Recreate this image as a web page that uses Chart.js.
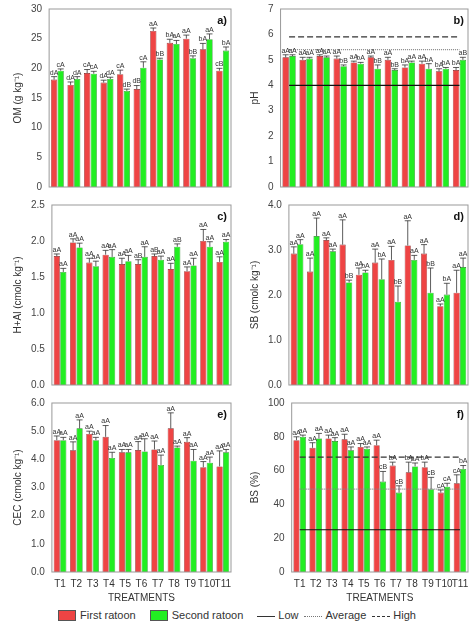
<!DOCTYPE html>
<html>
<head>
<meta charset="utf-8">
<script src="https://cdn.jsdelivr.net/npm/chart.js@4.4.1/dist/chart.umd.min.js"></script>
<style>
  body { margin: 0; background: #fff; font-family: Arial, "Liberation Sans", sans-serif; }
  #wrap { position: relative; width: 474px; height: 627px; }
  .cell { position: absolute; width: 237px; }
  #legend { position: absolute; left: 0; top: 606px; width: 474px; height: 18px; font-size: 11px; color: #333;
    display: flex; align-items: center; justify-content: center; gap: 6px; }
  .box { display: inline-block; width: 16px; height: 9px; border: 1px solid #555; vertical-align: middle; margin-right: 4px; }
  .ln { display: inline-block; width: 18px; height: 0; vertical-align: middle; margin-right: 3px; border-top: 1px solid #333; }
</style>
</head>
<body>
<div id="wrap">
  <div class="cell" style="left:0;top:0;height:196px"><canvas id="pa"></canvas></div>
  <div class="cell" style="left:237px;top:0;height:196px"><canvas id="pb"></canvas></div>
  <div class="cell" style="left:0;top:196px;height:198px"><canvas id="pc"></canvas></div>
  <div class="cell" style="left:237px;top:196px;height:198px"><canvas id="pd"></canvas></div>
  <div class="cell" style="left:0;top:394px;height:210px"><canvas id="pe"></canvas></div>
  <div class="cell" style="left:237px;top:394px;height:210px"><canvas id="pf"></canvas></div>
  <div id="legend">
    <span><span class="box" style="background:#ee4444"></span>First ratoon</span>
    <span style="margin-left:8px"><span class="box" style="background:#22ee22"></span>Second ratoon</span>
    <span style="margin-left:8px"><span class="ln"></span>Low</span>
    <span><span class="ln" style="border-top:1px dotted #777"></span>Average</span>
    <span><span class="ln" style="border-top:1px dashed #333"></span>High</span>
  </div>
</div>
<script>
const treatments = ['T1','T2','T3','T4','T5','T6','T7','T8','T9','T10','T11'];

// a) OM
const omFirst  = [18.1, 17.2, 19.2, 17.6, 19.0, 16.5, 26.3, 24.3, 25.0, 23.2, 19.6];
const omSecond = [19.6, 18.2, 19.1, 18.2, 16.2, 20.1, 21.5, 24.1, 21.7, 24.9, 23.0];
const omErrFirst  = [0.5, 0.5, 0.6, 0.4, 0.7, 0.6, 0.5, 0.6, 0.6, 1.0, 0.4];
const omErrSecond = [0.3, 0.4, 0.4, 0.3, 0.3, 1.0, 0.2, 0.6, 0.4, 0.9, 0.6];
const omLetFirst  = ['dA','dA','cA','dA','cA','dB','aA','bA','aA','bA','cB'];
const omLetSecond = ['cA','dA','cA','dA','dB','cA','bB','aA','bB','aA','bA'];

// b) pH
const phFirst  = [5.1, 5.0, 5.15, 5.05, 4.9, 5.1, 5.0, 4.7, 4.85, 4.55, 4.6];
const phSecond = [5.15, 5.05, 5.1, 4.75, 4.85, 4.65, 4.6, 4.9, 4.65, 4.65, 5.0];
const phErrFirst  = [0.1, 0.1, 0.05, 0.1, 0.05, 0.05, 0.1, 0.1, 0.1, 0.1, 0.1];
const phErrSecond = [0.05, 0.05, 0.05, 0.05, 0.05, 0.15, 0.05, 0.05, 0.2, 0.05, 0.1];
const phLetFirst  = ['aA','aA','aA','aA','aA','aA','aA','bA','aA','bA','bA'];
const phLetSecond = ['aA','aA','aA','bB','bA','bB','bB','aA','bA','bA','aB'];
const phLow = 4.0, phAvg = 5.4, phHigh = 5.9;

// c) H+Al
const haFirst  = [1.79, 1.98, 1.70, 1.81, 1.68, 1.68, 1.79, 1.61, 1.58, 2.00, 1.71];
const haSecond = [1.57, 1.91, 1.65, 1.78, 1.72, 1.78, 1.74, 1.92, 1.66, 1.92, 1.99];
const haErrFirst  = [0.03, 0.05, 0.06, 0.06, 0.08, 0.06, 0.03, 0.08, 0.06, 0.16, 0.07];
const haErrSecond = [0.05, 0.06, 0.07, 0.1, 0.08, 0.14, 0.05, 0.04, 0.1, 0.07, 0.03];
const haLetFirst  = ['aA','aA','aA','aA','aA','aB','aB','aA','aA','aA','aA'];
const haLetSecond = ['aA','aA','aA','aA','aA','aA','aA','aB','aA','aA','aA'];

// d) SB
const sbFirst  = [2.92, 2.52, 3.22, 3.12, 2.45, 2.72, 2.78, 3.10, 2.92, 1.75, 2.05];
const sbSecond = [3.13, 3.31, 2.97, 2.28, 2.50, 2.35, 1.85, 2.78, 2.05, 2.01, 2.62];
const sbErrFirst  = [0.15, 0.3, 0.05, 0.55, 0.15, 0.3, 0.3, 0.55, 0.2, 0.05, 0.5];
const sbErrSecond = [0.1, 0.4, 0.05, 0.05, 0.05, 0.45, 0.35, 0.1, 0.55, 0.25, 0.2];
const sbLetFirst  = ['aA','aA','aA','aA','aA','aA','aA','aA','aA','aA','aA'];
const sbLetSecond = ['aA','aA','aA','bB','bA','bA','bB','aA','bB','bA','aA'];

// e) CEC
const cecFirst  = [4.68, 4.32, 4.90, 4.80, 4.25, 4.33, 4.35, 5.10, 4.62, 3.72, 3.75];
const cecSecond = [4.68, 5.10, 4.68, 4.05, 4.25, 4.28, 3.80, 4.42, 3.95, 3.88, 4.25];
const cecErrFirst  = [0.15, 0.3, 0.1, 0.4, 0.1, 0.3, 0.3, 0.55, 0.15, 0.2, 0.55];
const cecErrSecond = [0.1, 0.3, 0.1, 0.2, 0.1, 0.45, 0.35, 0.05, 0.4, 0.2, 0.1];
const cecLetFirst  = ['aA','aA','aA','aA','aA','aA','aA','aA','aA','aA','aA'];
const cecLetSecond = ['aA','aA','aA','aA','aA','aA','aA','aA','aA','aA','aA'];

// f) BS
const bsFirst  = [78, 73.5, 79, 78.5, 74, 75, 63, 59, 62, 47, 52.5];
const bsSecond = [80, 79, 77.5, 72, 73, 53.5, 47, 62.5, 49, 50.5, 61];
const bsErrFirst  = [2, 3, 2, 3, 2, 3, 2, 6, 3, 1.5, 5];
const bsErrSecond = [1, 3, 2, 2, 1, 6, 4, 2, 7, 2, 2];
const bsLetFirst  = ['aA','aA','aA','aA','aA','aA','bA','bA','bA','cA','cA'];
const bsLetSecond = ['aA','aA','aA','aA','aA','cB','cB','aA','cB','cA','bA'];
const bsLow = 25, bsAvg = 49, bsHigh = 68;

const RED = '#ee4444', GREEN = '#22ee22';

const panelPlugin = {
  id: 'panel',
  afterDatasetsDraw(chart) {
    const { ctx, chartArea: a, scales } = chart;
    const o = chart.options.plugins.panel;
    ctx.save();
    // error bars and letters
    chart.data.datasets.forEach((ds, di) => {
      if (!ds.err) return;
      const meta = chart.getDatasetMeta(di);
      meta.data.forEach((bar, i) => {
        const x = bar.x;
        const yTop = scales.y.getPixelForValue(ds.data[i] + ds.err[i]);
        ctx.strokeStyle = '#333';
        ctx.lineWidth = 0.8;
        ctx.beginPath();
        ctx.moveTo(x, bar.y); ctx.lineTo(x, yTop);
        ctx.moveTo(x - 3, yTop); ctx.lineTo(x + 3, yTop);
        ctx.stroke();
        ctx.fillStyle = '#333';
        ctx.font = '7px Arial';
        ctx.textAlign = 'center';
        ctx.textBaseline = 'bottom';
        ctx.fillText(ds.letters[i], x, yTop - 0.5);
      });
    });
    // frame
    ctx.strokeStyle = '#999';
    ctx.lineWidth = 1;
    ctx.strokeRect(a.left, a.top, a.right - a.left, a.bottom - a.top);
    ctx.fillStyle = '#111';
    ctx.font = 'bold 11px Arial';
    ctx.textAlign = 'right';
    ctx.textBaseline = 'top';
    ctx.fillText(o.tag, a.right - 4, a.top + 6);
    ctx.restore();
  }
};

function refLine(v, dash, color) {
  return {
    type: 'line', data: treatments.map(() => v), borderColor: color, borderWidth: 1.2,
    borderDash: dash, pointRadius: 0, fill: false, order: 0
  };
}

function makePanel(id, tag, yTitle, first, second, errF, errS, letF, letS, yMax, step, dec, showX, lines) {
  const datasets = [
    { label: 'First ratoon', data: first, err: errF, letters: letF, backgroundColor: RED,
      borderColor: '#7a2020', borderWidth: 0.6, order: 1 },
    { label: 'Second ratoon', data: second, err: errS, letters: letS, backgroundColor: GREEN,
      borderColor: '#207a20', borderWidth: 0.6, order: 1 }
  ];
  if (lines) {
    datasets.push(refLine(lines[0], [], '#111'));
    datasets.push(refLine(lines[1], [1, 1], '#888'));
    datasets.push(refLine(lines[2], [6, 3], '#333'));
  }
  new Chart(document.getElementById(id), {
    type: 'bar',
    data: { labels: treatments, datasets },
    options: {
      responsive: true, maintainAspectRatio: false, animation: false,
      layout: { padding: { left: 8, right: 6, top: 8, bottom: 0 } },
      plugins: { legend: { display: false }, tooltip: { enabled: false }, panel: { tag } },
      datasets: { bar: { categoryPercentage: 0.8, barPercentage: 0.95 } },
      scales: {
        x: {
          grid: { display: false, drawTicks: true, tickLength: 4, color: '#666' },
          border: { display: false },
          ticks: { display: showX, color: '#333', font: { size: 10 }, maxRotation: 0, autoSkip: false, padding: 2 },
          title: { display: showX, text: 'TREATMENTS', color: '#333', font: { size: 10 }, padding: 0 }
        },
        y: {
          min: 0, max: yMax,
          grid: { display: false, tickLength: 4, drawTicks: true, color: '#666' },
          border: { display: false },
          ticks: { stepSize: step, color: '#444', font: { size: 10 }, callback: v => v.toFixed(dec) },
          title: { display: true, text: yTitle, color: '#333', font: { size: 10 }, padding: 4 }
        }
      }
    },
    plugins: [panelPlugin]
  });
}

makePanel('pa', 'a)', 'OM (g kg⁻¹)', omFirst, omSecond, omErrFirst, omErrSecond, omLetFirst, omLetSecond, 30, 5, 0, false);
makePanel('pb', 'b)', 'pH', phFirst, phSecond, phErrFirst, phErrSecond, phLetFirst, phLetSecond, 7, 1, 0, false, [phLow, phAvg, phHigh]);
makePanel('pc', 'c)', 'H+Al (cmolc kg⁻¹)', haFirst, haSecond, haErrFirst, haErrSecond, haLetFirst, haLetSecond, 2.5, 0.5, 1, false);
makePanel('pd', 'd)', 'SB (cmolc kg⁻¹)', sbFirst, sbSecond, sbErrFirst, sbErrSecond, sbLetFirst, sbLetSecond, 4, 1, 1, false);
makePanel('pe', 'e)', 'CEC (cmolc kg⁻¹)', cecFirst, cecSecond, cecErrFirst, cecErrSecond, cecLetFirst, cecLetSecond, 6, 1, 1, true);
makePanel('pf', 'f)', 'BS (%)', bsFirst, bsSecond, bsErrFirst, bsErrSecond, bsLetFirst, bsLetSecond, 100, 20, 0, true, [bsLow, bsAvg, bsHigh]);
</script>
</body>
</html>
